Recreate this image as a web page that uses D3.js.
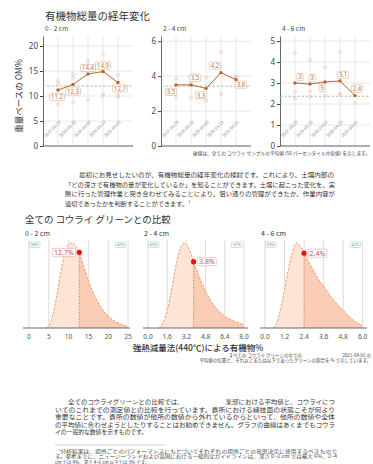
<!DOCTYPE html>
<html><head><meta charset="utf-8">
<script src="https://cdn.jsdelivr.net/npm/d3@7"></script>
<style>
body{margin:0;background:#fff}
svg{display:block}
text{font-family:"Noto Sans CJK JP","Noto Sans",sans-serif}
</style>
</head><body>
<svg id="c" width="373" height="464"></svg>
<script>
// ---------- data ----------
const dates = ["2017-05-25","2018-05-28","2019-04-02","2020-04-22","2021-04-01"];
const depths = ["0 - 2 cm","2 - 4 cm","4 - 6 cm"];
const mean02 = [11.2,12.3,14.4,14.9,12.7];
const mean24 = [3.5,3.5,3.3,4.2,3.8];
const mean46 = [3.0,2.95,3.05,3.1,2.4];
const label02 = ["11.2","12.3","14.4","14.9","12.7"];
const label24 = ["3.5","3.5","3.3","4.2","3.8"];
const label46 = ["3","3","3","3.1","2.4"];
const samples02 = [[13.0,12.4,8.3],[14.4,13.7,8.7],[17.1,16.2,9.3],[18.5,10.0,10.3],[14.2,10.2,9.8]];
const samples24 = [[3.85,2.84],[2.78,3.6],[3.93,2.59],[5.37,2.97],[4.0,3.9]];
const samples46 = [[4.43,2.59,2.27],[4.1,2.6,2.35],[3.75,2.4],[4.46,2.45,2.5],[2.05]];
const median02 = 12.0, median24 = 3.43, median46 = 2.37;
const yTicks02 = [0,5,10,15,20], yTicks24 = [0,2,4,6], yTicks46 = [0,1,2,3,4,5];

// distribution curves (relative density)
const distX02 = [4.5,5,6,7,8,9,10,10.8,11.5,12.7,14,15,16,17,18,19,20,21,22,23,24,25];
const distY02 = [0,0.02,0.15,0.38,0.65,0.87,0.98,1.0,0.98,0.89,0.70,0.56,0.44,0.34,0.26,0.19,0.14,0.10,0.07,0.05,0.03,0.02];
const distX24 = [0.9,1.2,1.6,2.0,2.4,2.8,3.0,3.2,3.6,3.8,4.4,4.8,5.6,6.4,7.2,8.0];
const distY24 = [0,0.05,0.2,0.48,0.78,0.97,1.0,0.98,0.87,0.78,0.56,0.43,0.25,0.14,0.08,0.04];
const distX46 = [0.5,0.7,0.9,1.2,1.5,1.8,1.95,2.1,2.4,2.8,3.2,3.6,4.0,4.4,4.8,5.2,5.6,6.0];
const distY46 = [0,0.05,0.18,0.45,0.75,0.96,1.0,0.98,0.88,0.74,0.6,0.49,0.38,0.29,0.21,0.13,0.07,0.03];
const clubValues = [12.7,3.8,2.4];
const clubLabels = ["12.7%","3.8%","2.4%"];
const pctBelow = ["58%","63%","53%"];
const pctAbove = ["42%","37%","47%"];
const xTicks02 = [0,5,10,15,20,25], xTicks24 = [0,1.6,3.2,4.8,6.4,8.0], xTicks46 = [0,1.2,2.4,3.6,4.8,6.0];

// ---------- drawing ----------
const svg = d3.select("#c");
svg.append("rect").attr("width",373).attr("height",464).attr("fill","#fff");

svg.append("text").attr("x",45).attr("y",19.5).attr("font-size",10.5).attr("fill","#333").text("有機物総量の経年変化");
svg.append("text").attr("transform","translate(22,96) rotate(-90)").attr("text-anchor","middle")
  .attr("font-size",8.5).attr("fill","#333").text("重量ベースの OM%");

const topCfg = [
  {label:depths[0], means:mean02, labels:label02, samples:samples02, median:median02, yMax:22, ticks:yTicks02, x0:43, x1:133,
   offs:[[-1,7],[0,7],[0,-6],[0,-6],[2,6]]},
  {label:depths[1], means:mean24, labels:label24, samples:samples24, median:median24, yMax:6.3, ticks:yTicks24, x0:161, x1:251,
   offs:[[-5,7],[4,-7],[-5,7],[-6,-7],[5,5]]},
  {label:depths[2], means:mean46, labels:label46, samples:samples46, median:median46, yMax:5.24, ticks:yTicks46, x0:280, x1:370,
   offs:[[5,-6],[2,-6],[-3,6],[3,-6],[2,-7]]}
];
const yTop = 36, yBot = 146;
topCfg.forEach(p => {
  const g = svg.append("g");
  const x = d3.scalePoint().domain(dates).range([p.x0,p.x1]).padding(1);
  const y = d3.scaleLinear().domain([0,p.yMax]).range([yBot,yTop]);
  g.append("text").attr("x",p.x0+2).attr("y",30.5).attr("font-size",6.5).attr("fill","#444").text(p.label);
  g.selectAll(".hg").data(p.ticks).join("line").attr("x1",p.x0).attr("x2",p.x1)
    .attr("y1",d=>y(d)).attr("y2",d=>y(d)).attr("stroke","#e2e2e2").attr("stroke-width",0.8);
  g.selectAll(".vg").data(dates).join("line").attr("x1",d=>x(d)).attr("x2",d=>x(d))
    .attr("y1",yTop).attr("y2",yBot).attr("stroke","#e2e2e2").attr("stroke-width",0.8);
  const ax = g.append("g").attr("transform",`translate(${p.x0},0)`)
    .call(d3.axisLeft(y).tickValues(p.ticks).tickFormat(d3.format("d")).tickSize(3).tickSizeOuter(0).tickPadding(2));
  ax.select(".domain").attr("stroke","#444").attr("stroke-width",0.8);
  ax.selectAll(".tick line").attr("stroke","#444");
  ax.selectAll(".tick text").attr("font-size",8).attr("fill","#444").style("font-family","'Noto Sans',sans-serif");
  g.append("line").attr("x1",p.x0).attr("x2",p.x1).attr("y1",yBot).attr("y2",yBot).attr("stroke","#444").attr("stroke-width",0.8);
  g.selectAll(".dl").data(dates).join("text")
    .attr("transform",d=>`translate(${x(d)-4.5},${yBot-16}) rotate(-45)`)
    .attr("text-anchor","middle").attr("font-size",4.2).attr("fill","#888").text(d=>d);
  g.append("line").attr("x1",p.x0).attr("x2",p.x1).attr("y1",y(p.median)).attr("y2",y(p.median))
    .attr("stroke","#92c98e").attr("stroke-width",0.9).attr("stroke-dasharray","2.5,1.8");
  p.samples.forEach((s,i)=>{
    g.selectAll(null).data(s).join("circle").attr("cx",x(dates[i])).attr("cy",d=>y(d)).attr("r",1.5)
      .attr("fill","none").attr("stroke","#e2bcae").attr("stroke-width",0.6);
  });
  const line = d3.line().x((d,i)=>x(dates[i])).y(d=>y(d));
  g.append("path").attr("d",line(p.means)).attr("fill","none").attr("stroke","#c0622a").attr("stroke-width",1);
  g.selectAll(".mp").data(p.means).join("circle").attr("cx",(d,i)=>x(dates[i])).attr("cy",d=>y(d)).attr("r",1.7).attr("fill","#c0622a");
  p.means.forEach((v,i)=>{
    const cx = x(dates[i]) + p.offs[i][0], cy = y(v) + p.offs[i][1];
    const t = g.append("text").attr("x",cx).attr("y",cy+2.2).attr("text-anchor","middle").attr("font-size",6.2)
      .attr("fill","#c07a50").style("font-family","'Noto Sans',sans-serif").text(p.labels[i]);
    const w = t.node().getComputedTextLength();
    g.insert("rect", () => t.node()).attr("x",cx-w/2-1.3).attr("y",cy-3.6).attr("width",w+2.6).attr("height",7.2)
      .attr("rx",1).attr("fill","#fff").attr("fill-opacity",0.85).attr("stroke","#dcae94").attr("stroke-width",0.6);
  });
});
svg.append("text").attr("x",370).attr("y",155).attr("text-anchor","end").attr("font-size",4.7).attr("fill","#444")
  .text("破線は、全ての コウライ サンプルの平均値 (50 パーセンタイル中央値) を示します。");

const para1 = [
  ["最初にお見せしたいのが、有機物総量の経年変化の検討です。これにより、土壌内部の",79,177,255],
  ["「どの深さで有機物の量が変化しているか」を知ることができます。土壌に起こった変化を、実",65,186.5,270],
  ["際に行った管理作業と突き合わせてみることにより、狙い通りの管理ができたか、作業内容が",65,196,270],
  ["適切であったかを判断することができます。¹",65,205.5,0]
];
para1.forEach(l=>{
  const t = svg.append("text").attr("x",l[1]).attr("y",l[2]).attr("font-size",6.2).attr("fill","#333").text(l[0]);
  if (l[3]) t.attr("textLength",l[3]).attr("lengthAdjust","spacingAndGlyphs");
});

svg.append("text").attr("x",25).attr("y",223).attr("font-size",9.5).attr("fill","#333").text("全ての コウライ グリーンとの比較");

const distCfg = [
  {label:depths[0], xs:distX02, ys:distY02, ticks:xTicks02, fmt:d3.format("d"), x0:29, x1:128, ax0:23, ax1:130, side:-1},
  {label:depths[1], xs:distX24, ys:distY24, ticks:xTicks24, fmt:d3.format(".1f"), x0:148, x1:244, ax0:143, ax1:248, side:1},
  {label:depths[2], xs:distX46, ys:distY46, ticks:xTicks46, fmt:d3.format(".1f"), x0:265, x1:362.7, ax0:260, ax1:367, side:1}
];
const dBase = 328, dTop = 243;
distCfg.forEach((p,k)=>{
  const g = svg.append("g");
  const dom = [p.ticks[0], p.ticks[p.ticks.length-1]];
  const x = d3.scaleLinear().domain(dom).range([p.x0,p.x1]);
  const y = d3.scaleLinear().domain([0,1]).range([dBase,dTop]);
  g.append("text").attr("x",p.x0-4).attr("y",236).attr("font-size",7).attr("fill","#333").text(p.label);
  g.selectAll(".vg").data(p.ticks).join("line").attr("x1",d=>x(d)).attr("x2",d=>x(d)).attr("y1",240).attr("y2",dBase)
    .attr("stroke","#d8d8d8").attr("stroke-width",0.9);
  const pts = p.xs.map((v,i)=>[v,p.ys[i]]);
  const cv = clubValues[k];
  const left = pts.filter(d=>d[0]<=cv), right = pts.filter(d=>d[0]>=cv);
  const area = d3.area().x(d=>x(d[0])).y0(dBase).y1(d=>y(d[1])).curve(d3.curveMonotoneX);
  g.append("path").attr("d",area(left)).attr("fill","#fde4d4");
  g.append("path").attr("d",area(right)).attr("fill","#f9cdb5");
  const ln = d3.line().x(d=>x(d[0])).y(d=>y(d[1])).curve(d3.curveMonotoneX);
  g.append("path").attr("d",ln(pts)).attr("fill","none").attr("stroke","#ef9260").attr("stroke-width",0.9).attr("stroke-dasharray","2.5,1.5");
  g.append("line").attr("x1",p.ax0).attr("x2",p.ax1).attr("y1",dBase).attr("y2",dBase).attr("stroke","#444").attr("stroke-width",0.8);
  g.selectAll(".tl").data(p.ticks).join("text").attr("x",d=>x(d)).attr("y",338.5).attr("text-anchor","middle")
    .attr("font-size",6.6).attr("fill","#555").style("font-family","'Noto Sans',sans-serif").text(d=>p.fmt(d));
  const cy = y(p.ys[p.xs.indexOf(cv)]);
  g.append("line").attr("x1",x(cv)).attr("x2",x(cv)).attr("y1",cy).attr("y2",dBase)
    .attr("stroke","#e04848").attr("stroke-width",0.8).attr("stroke-dasharray","1,1.3");
  g.append("circle").attr("cx",x(cv)).attr("cy",cy).attr("r",2.6).attr("fill","#ee1111");
  const t = g.append("text").attr("y",cy+2.5).attr("font-size",7).attr("fill","#c85050")
    .style("font-family","'Noto Sans',sans-serif").text(clubLabels[k]);
  const w = t.node().getComputedTextLength();
  const bx = p.side<0 ? x(cv)-4-w-3 : x(cv)+4;
  t.attr("x",bx+1.5);
  g.insert("rect",()=>t.node()).attr("x",bx).attr("y",cy-4).attr("width",w+3).attr("height",8).attr("rx",1)
    .attr("fill","#fff").attr("stroke","#f2a2a2").attr("stroke-width",0.6);
  const boxes = [[p.x0+0.5, pctBelow[k]],[p.x1-12.5, pctAbove[k]]];
  boxes.forEach(b=>{
    g.append("rect").attr("x",b[0]).attr("y",242).attr("width",10.5).attr("height",5.5).attr("rx",1)
      .attr("fill","#fff").attr("stroke","#a9c7ea").attr("stroke-width",0.6);
    g.append("text").attr("x",b[0]+5.25).attr("y",246.2).attr("text-anchor","middle").attr("font-size",4)
      .attr("fill","#4aa84a").style("font-family","'Noto Sans',sans-serif").text(b[1]);
  });
});
svg.append("text").attr("x",198).attr("y",350.5).attr("text-anchor","middle").attr("font-size",8.5).attr("fill","#333")
  .attr("font-weight",500).text("強熱減量法(440℃)による有機物%");
svg.append("text").attr("x",371).attr("y",357).attr("text-anchor","end").attr("font-size",4.5).attr("fill","#444")
  .text("すべての コウライ グリーンの中での　　　　　　　　　2021-04-01 の");
svg.append("text").attr("x",371).attr("y",362).attr("text-anchor","end").attr("font-size",4.5).attr("fill","#444")
  .text("平均値の位置と、それ以上または以下であったグリーンの割合を % で示しています。");

const para2 = [
  ["全てのコウライグリーンとの比較では、　　　　　　　楽部における平均値と、コウライにつ",68,404,267],
  ["いてのこれまでの測定値との比較を行っています。貴所における緑技面の状態こそが何より",55,411.6,280],
  ["重要なことです。貴所の数値が他所の数値から外れているからといって、他所の数値や全体",55,419.2,280],
  ["の平均値に合わせようとしたりすることはお勧めできません。グラフの曲線はあくまでもコウラ",55,426.8,280],
  ["イの一般的な数値を示すものです。",55,434.4,0]
];
para2.forEach(l=>{
  const t = svg.append("text").attr("x",l[1]).attr("y",l[2]).attr("font-size",5.8).attr("fill","#333").text(l[0]);
  if (l[3]) t.attr("textLength",l[3]).attr("lengthAdjust","spacingAndGlyphs");
});
svg.append("line").attr("x1",55).attr("x2",165).attr("y1",445).attr("y2",445).attr("stroke","#999").attr("stroke-width",0.5);
const foot = [
  ["¹分析結果は、場所ごとのパフォーマンスにもとづいてそれぞれの場所ごとの意思決定に使用するべきもので",58,452.5,279],
  ["す。参考までに、ニュージーランドおよび英国における一般的なガイドラインは、深さ 0~2 cm では最大 6%、2~4",55,458,282],
  ["cm では 4%、深さ 4~6 cm 以下では 3% です。",55,463.5,0]
];
foot.forEach(l=>{
  const t = svg.append("text").attr("x",l[1]).attr("y",l[2]).attr("font-size",4.5).attr("fill","#444").text(l[0]);
  if (l[3]) t.attr("textLength",l[3]).attr("lengthAdjust","spacingAndGlyphs");
});
</script>
</body></html>
